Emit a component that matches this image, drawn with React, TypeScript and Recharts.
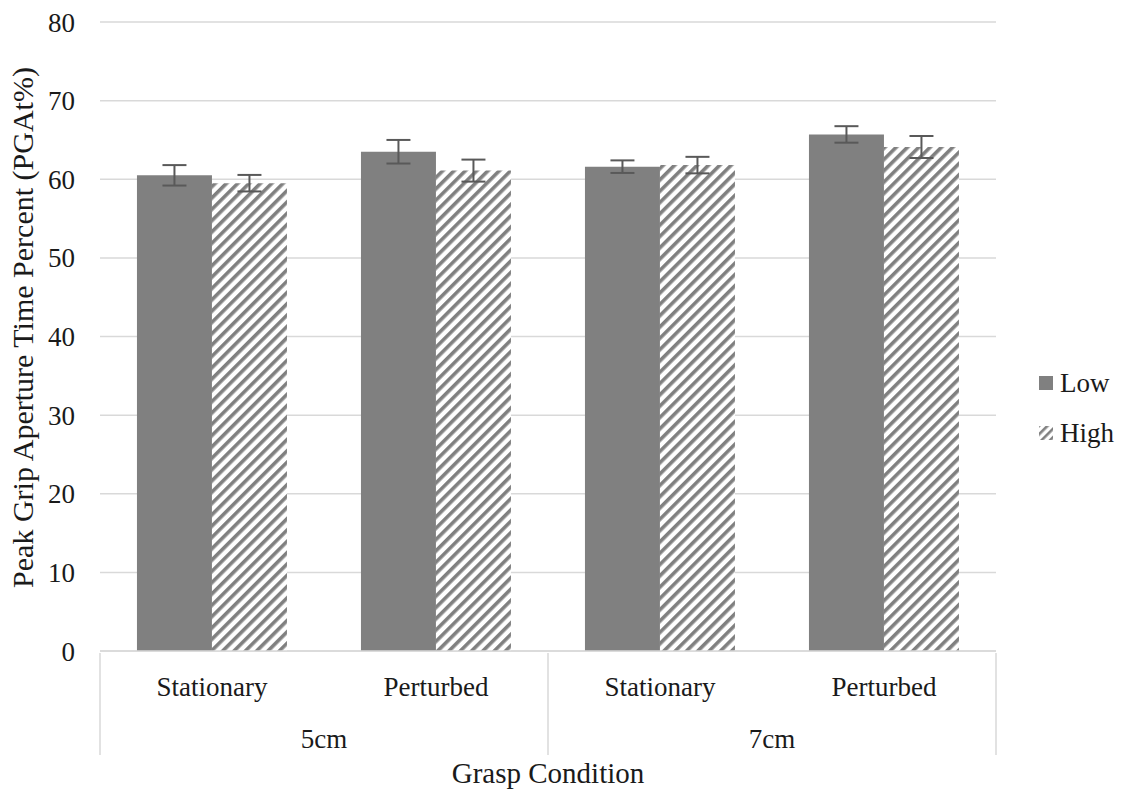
import React from "react";
import { Bar, BarChart, CartesianGrid, ErrorBar, Label, XAxis, YAxis } from "recharts";

const categories = ["Stationary", "Perturbed", "Stationary", "Perturbed"];
const groups = ["5cm", "5cm", "7cm", "7cm"];
const lowValues = [60.5, 63.5, 61.6, 65.7];
const lowErrors = [1.3, 1.5, 0.8, 1.05];
const highValues = [59.5, 61.1, 61.8, 64.1];
const highErrors = [1.05, 1.4, 1.05, 1.4];
const yTicks = [0, 10, 20, 30, 40, 50, 60, 70, 80];
const seriesNames = ["Low", "High"];

const data = categories.map((c, i) => ({
  key: `${groups[i]}-${c}`,
  low: lowValues[i],
  lowErr: lowErrors[i],
  high: highValues[i],
  highErr: highErrors[i],
}));

const FONT = "Liberation Serif, DejaVu Serif, serif";
const GRID = "#d9d9d9";
const BAR = "#808080";
const INK = "#1a1a1a";

function CategoryTick(props: any) {
  const { x, y, payload, index } = props;
  const half = payload?.offset ?? 112;
  const lines: React.ReactNode[] = [];
  if (index === 0) lines.push(<line key="l" x1={x - half} x2={x - half} y1={y} y2={y + 102} stroke={GRID} strokeWidth={1.5} />);
  if (index === 1 || index === 3) lines.push(<line key="r" x1={x + half} x2={x + half} y1={y} y2={y + 102} stroke={GRID} strokeWidth={1.5} />);
  return (
    <g style={{ fontFamily: FONT }}>
      {lines}
      <text x={x} y={y + 43} textAnchor="middle" fontSize={27} fontFamily={FONT} fill={INK}>{categories[index]}</text>
      {index % 2 === 0 && (
        <text x={x + half} y={y + 95} textAnchor="middle" fontSize={27} fontFamily={FONT} fill={INK}>{groups[index]}</text>
      )}
    </g>
  );
}

function LegendBox() {
  const row = { display: "flex", alignItems: "center", height: 50, fontFamily: FONT, fontSize: 27, color: INK } as const;
  return (
    <div style={{ position: "absolute", left: 1038, top: 358, fontFamily: FONT }}>
      <div style={row}>
        <svg width={16} height={16} style={{ marginRight: 6 }}><rect x={1} y={1} width={14} height={14} fill={BAR} /></svg>
        <span style={{ fontFamily: FONT }}>{seriesNames[0]}</span>
      </div>
      <div style={row}>
        <svg width={16} height={16} style={{ marginRight: 6 }}>
          <defs>
            <pattern id="legendHatch" patternUnits="userSpaceOnUse" width={6} height={6} patternTransform="rotate(45)">
              <rect x={0} y={0} width={2.6} height={6} fill={BAR} />
            </pattern>
          </defs>
          <rect x={1} y={1} width={14} height={14} fill="url(#legendHatch)" />
        </svg>
        <span style={{ fontFamily: FONT }}>{seriesNames[1]}</span>
      </div>
    </div>
  );
}

export default function App() {
  return (
    <div style={{ position: "absolute", left: 0, top: 0, width: 1127, height: 789, background: "#fff", fontFamily: FONT }}>
      <BarChart width={1127} height={789} data={data} margin={{ top: 22, right: 131, bottom: 0, left: 0 }} barCategoryGap="16.5%" barGap={0}>
        <defs>
          <pattern id="hatch" patternUnits="userSpaceOnUse" width={8} height={8} patternTransform="rotate(45)">
            <rect x={0} y={0} width={8} height={8} fill="#fff" />
            <rect x={0} y={0} width={3.6} height={8} fill={BAR} />
          </pattern>
        </defs>
        <CartesianGrid vertical={false} stroke={GRID} strokeWidth={1.5} />
        <XAxis
          dataKey="key"
          height={138}
          tickLine={false}
          tickSize={0}
          axisLine={{ stroke: GRID, strokeWidth: 1.5 }}
          tick={<CategoryTick />}
          interval={0}
        >
          <Label value="Grasp Condition" position="insideBottom" offset={6} style={{ fontFamily: FONT, fontSize: 29, fill: INK }} />
        </XAxis>
        <YAxis
          width={100}
          domain={[0, 80]}
          ticks={yTicks}
          axisLine={false}
          tickLine={false}
          tickSize={0}
          tickMargin={25}
          tick={{ fontFamily: FONT, fontSize: 27, fill: INK }}
          label={{
            content: ({ viewBox }: any) => {
              const cx = viewBox.x + 22;
              const cy = viewBox.y + viewBox.height / 2 - 9;
              return (
                <text x={cx} y={cy} transform={`rotate(-90, ${cx}, ${cy})`} textAnchor="middle" dominantBaseline="central" fontFamily={FONT} fontSize={30} fill={INK}>
                  Peak Grip Aperture Time Percent (PGAt%)
                </text>
              );
            },
          }}
        />
        <Bar dataKey="low" name="Low" fill={BAR} isAnimationActive={false}>
          <ErrorBar dataKey="lowErr" width={12} stroke="#595959" strokeWidth={2} />
        </Bar>
        <Bar dataKey="high" name="High" fill="url(#hatch)" isAnimationActive={false}>
          <ErrorBar dataKey="highErr" width={12} stroke="#595959" strokeWidth={2} />
        </Bar>
      </BarChart>
      <LegendBox />
    </div>
  );
}
